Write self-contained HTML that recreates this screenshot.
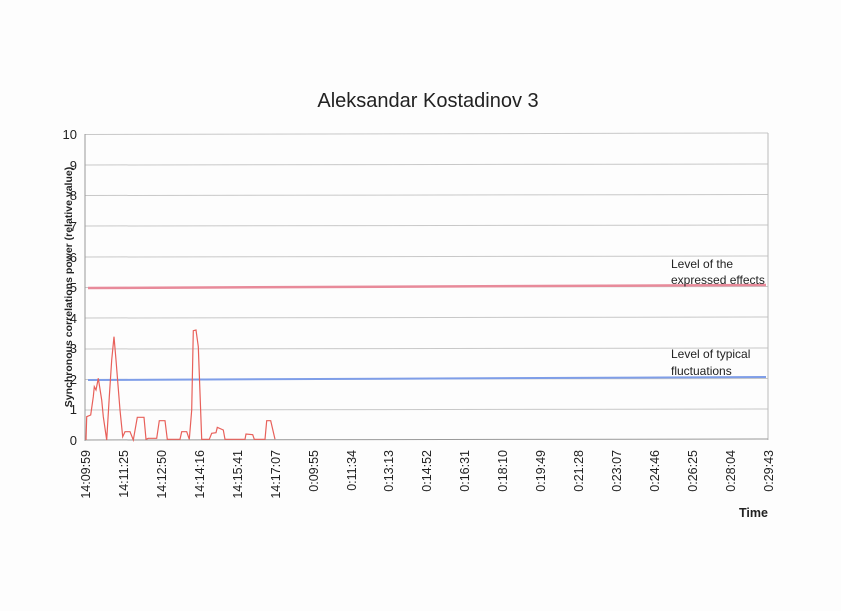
<!DOCTYPE html>
<html><head><style>body{margin:0;background:#fff}</style></head><body>
<svg width="841" height="611" xmlns="http://www.w3.org/2000/svg" font-family="Liberation Sans, sans-serif">
<rect width="841" height="611" fill="#fdfdfd"/>
<text x="428" y="107" font-size="20" text-anchor="middle" fill="#222">Aleksandar Kostadinov 3</text>
<g stroke="#c8c8c8" stroke-width="1">
<line x1="85" y1="134.5" x2="768" y2="133"/>
<line x1="85" y1="165" x2="768" y2="164"/>
<line x1="85" y1="195.5" x2="768" y2="194.5"/>
<line x1="85" y1="226" x2="768" y2="225"/>
<line x1="85" y1="257" x2="768" y2="256"/>
<line x1="85" y1="287.5" x2="768" y2="286.5"/>
<line x1="85" y1="318" x2="768" y2="317"/>
<line x1="85" y1="349" x2="768" y2="348"/>
<line x1="85" y1="379.5" x2="768" y2="378.5"/>
<line x1="85" y1="410" x2="768" y2="409"/>
</g>
<line x1="85" y1="134" x2="85" y2="441" stroke="#999"/>
<line x1="768" y1="133" x2="768" y2="440" stroke="#bbb"/>
<line x1="85" y1="440" x2="768" y2="439" stroke="#999"/>
<line x1="88" y1="288" x2="766" y2="285" stroke="#e88a9a" stroke-width="2.5"/>
<line x1="88" y1="380" x2="766" y2="377" stroke="#7f9ee8" stroke-width="2"/>
<g font-size="13" fill="#222" text-anchor="end">
<text x="77" y="445">0</text><text x="77" y="414">1</text><text x="77" y="384">2</text><text x="77" y="353">3</text><text x="77" y="323">4</text><text x="77" y="292">5</text><text x="77" y="262">6</text><text x="77" y="231">7</text><text x="77" y="200">8</text><text x="77" y="170">9</text><text x="77" y="139">10</text>
</g>
<text transform="translate(72,287) rotate(-90)" font-size="10.5" font-weight="bold" fill="#222" text-anchor="middle">Synchronous correlations power  (relative value)</text>
<polyline fill="none" stroke="#e8605a" stroke-width="1.2" points="86,440 86.7,416.7 90.7,415 93.3,396.7 94.3,386.7 96,390 98.3,378.3 101.7,400 103.3,416.7 106.7,440 109.3,396.7 111.7,360 114,336.7 116,360 120,410 122.7,436.7 125,431.7 130,431.7 133.3,440 137.3,417.3 144,417.3 146,439.3 148.3,438.3 156.7,438.3 159.3,420.7 165,420.7 167.3,439.3 180,439.3 181.7,431.7 186.7,431.7 189.3,439.3 191.7,410 193.3,330.7 196,330 198.3,346.7 201.7,439.3 209.3,439.3 211.7,433.3 216,432.7 217.3,427.3 223.3,430 225,439.3 245,439.3 246,434 252.7,434.7 254.3,439.3 265,439.3 266.7,420.7 270.7,420.7 275,439.3"/>
<g font-size="12.5" fill="#222" text-anchor="end">
<text transform="translate(90,450) rotate(-90)">14:09:59</text>
<text transform="translate(128,450) rotate(-90)">14:11:25</text>
<text transform="translate(166,450) rotate(-90)">14:12:50</text>
<text transform="translate(204,450) rotate(-90)">14:14:16</text>
<text transform="translate(242,450) rotate(-90)">14:15:41</text>
<text transform="translate(280,450) rotate(-90)">14:17:07</text>
<text transform="translate(318,450) rotate(-90)">0:09:55</text>
<text transform="translate(356,450) rotate(-90)">0:11:34</text>
<text transform="translate(393,450) rotate(-90)">0:13:13</text>
<text transform="translate(431,450) rotate(-90)">0:14:52</text>
<text transform="translate(469,450) rotate(-90)">0:16:31</text>
<text transform="translate(507,450) rotate(-90)">0:18:10</text>
<text transform="translate(545,450) rotate(-90)">0:19:49</text>
<text transform="translate(583,450) rotate(-90)">0:21:28</text>
<text transform="translate(621,450) rotate(-90)">0:23:07</text>
<text transform="translate(659,450) rotate(-90)">0:24:46</text>
<text transform="translate(697,450) rotate(-90)">0:26:25</text>
<text transform="translate(735,450) rotate(-90)">0:28:04</text>
<text transform="translate(773,450) rotate(-90)">0:29:43</text>
</g>
<text x="739" y="517" font-size="12.5" font-weight="bold" fill="#222">Time</text>
<g font-size="12" fill="#222">
<text x="671" y="268">Level of the</text><text x="671" y="284">expressed effects</text>
<text x="671" y="358">Level of typical</text><text x="671" y="375">fluctuations</text>
</g>
</svg>
</body></html>
